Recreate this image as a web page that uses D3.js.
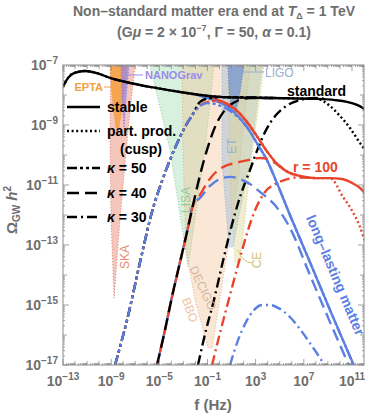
<!DOCTYPE html>
<html><head><meta charset="utf-8">
<script src="https://cdn.jsdelivr.net/npm/d3@7"></script>
<style>body{margin:0;background:#fff;} text{font-family:"Liberation Sans",Arial,Helvetica,sans-serif;}</style>
</head><body><svg id="c" width="369" height="415"></svg>
<script>
// ---------- data (log10 f [Hz], log10 Omega h^2) ----------
const xTickExps = [-13,-9,-5,-1,3,7,11];
const yTickExps = [-17,-15,-13,-11,-9,-7];

const stdStable = [[-13,-7.73],[-12.58,-7.43],[-12.09,-7.27],[-11.17,-7.2],[-10.18,-7.27],[-9.1,-7.43],[-7.44,-7.6],[-5.19,-7.77],[-3.28,-7.9],[-1.62,-8.0],[0.29,-8.07],[4.44,-8.1],[8.1,-8.13],[9.59,-8.17],[10.59,-8.23],[11.42,-8.33],[12.08,-8.47]];
const stdPartProd = [[8.1,-8.13],[9.18,-8.37],[10.01,-8.7],[10.84,-9.1],[11.5,-9.5],[12.08,-9.83]];
const r100Stable = [[-2.04,-7.97],[-0.79,-8.1],[0.29,-8.23],[1.29,-8.47],[2.28,-8.9],[3.2,-9.43],[4.03,-9.93],[4.86,-10.33],[5.69,-10.57],[6.69,-10.7],[7.93,-10.77],[9.18,-10.77],[10.17,-10.8],[11.0,-10.93],[11.67,-11.1],[12.08,-11.27]];
const r100PartProd = [[9.18,-10.77],[10.26,-11.4],[11.0,-11.85],[11.67,-12.4],[12.08,-12.9]];
const lmStable = [[-2.04,-7.97],[-0.79,-8.13],[0.29,-8.3],[1.29,-8.6],[2.28,-9.07],[3.2,-9.67],[3.94,-10.17],[4.6,-10.77],[5.85,-12.0],[7.51,-13.57],[9.18,-15.17],[11.25,-17.1]];

const k50Low = [[-8.68,-17],[-7.68,-15.5],[-6.6,-13.57],[-5.61,-11.9],[-4.69,-10.77],[-3.7,-9.77],[-2.87,-9.07],[-2.2,-8.63]];
const k50Std = [[-1.62,-8.23],[-0.79,-8.1],[0.29,-8.07],[4.44,-8.1]];
const k50R100 = [[-1.45,-8.3],[-0.38,-8.2],[1.29,-8.47],[2.28,-8.9],[3.2,-9.43]];
const k50LM = [[-1.62,-8.37],[-1.04,-8.27],[-0.38,-8.3],[0.29,-8.4],[1.29,-8.65],[2.28,-9.07],[3.2,-9.67],[3.94,-10.17],[4.6,-10.77],[5.85,-12.0],[7.51,-13.57],[9.18,-15.17],[11.25,-17.1]];

const k40Low = [[-5.19,-17],[-4.53,-15.83],[-3.95,-14.73],[-3.28,-13.57],[-2.7,-12.57],[-2.2,-11.67]];
const k40Std = [[-1.62,-10.67],[-1.04,-9.83],[-0.38,-9.07],[0.45,-8.5],[1.45,-8.2],[2.53,-8.1],[4.44,-8.1]];
const k40R100 = [[-1.62,-11.33],[-1.04,-10.93],[-0.38,-10.6],[0.45,-10.37],[1.29,-10.27],[2.37,-10.17],[3.36,-10.1],[4.03,-10.13],[4.86,-10.33],[5.69,-10.57]];
const k40LM = [[-1.62,-11.43],[-0.79,-11.03],[0.04,-10.8],[0.87,-10.73],[1.7,-10.8],[2.53,-10.97],[3.36,-11.23],[4.6,-11.67],[5.85,-12.43],[7.51,-14.0],[9.18,-15.57],[10.84,-17.1]];

const k30Std = [[-1.79,-17],[-1.12,-15.83],[-0.46,-14.83],[0.21,-13.67],[0.87,-12.57],[1.7,-11.4],[2.53,-10.5],[3.2,-9.77],[3.86,-9.17],[4.69,-8.67],[5.69,-8.33],[6.68,-8.17],[7.93,-8.1],[9.0,-8.14]];
const k30R100 = [[-0.62,-17],[0.04,-15.93],[0.87,-14.67],[1.7,-13.43],[2.37,-12.5],[3.03,-11.77],[3.78,-11.23],[4.6,-10.97],[5.44,-10.83],[6.44,-10.75],[7.93,-10.77]];
const k30LM = [[0.87,-17],[1.54,-16.17],[2.2,-15.57],[2.86,-15.17],[3.53,-15.0],[4.19,-15.0],[5.02,-15.13],[5.85,-15.4],[6.68,-15.8],[7.51,-16.27],[8.35,-16.77],[8.76,-17.05]];

// detector sensitivity regions
const detEPTA = [[-9.1,-6.5],[-7.68,-6.5],[-7.68,-7],[-7.93,-8.0],[-8.35,-9.1],[-8.6,-9.1],[-8.93,-8.0],[-9.1,-7]];
const detNANOGrav = [[-8.18,-6.5],[-7.52,-6.5],[-7.52,-7],[-7.77,-8.17],[-7.93,-9.1],[-8.1,-8.17],[-8.18,-7]];
const detSKA = [[-9.01,-6.5],[-7.02,-6.5],[-7.02,-7],[-7.6,-9.17],[-8.27,-12.17],[-8.76,-14.77],[-9.01,-12.17],[-9.1,-9.17]];
const detLISA = [[-5.77,-6.5],[-0.46,-6.5],[-0.46,-7],[-1.21,-9.83],[-2.29,-12.83],[-2.62,-13.73],[-2.95,-12.83],[-4.11,-9.83],[-5.77,-7]];
const detDECIGO = [[-3.12,-6.5],[2.53,-6.5],[2.53,-7],[1.53,-10.83],[0.54,-13.5],[-0.62,-16.43],[-0.96,-16.43],[-2.04,-14.83],[-2.78,-13.17],[-3.03,-9.83],[-3.12,-7]];
const detET = [[0.21,-6.5],[3.53,-6.5],[3.53,-7],[2.53,-10.17],[1.12,-13.07],[0.79,-13.07],[0.21,-10.17],[0.21,-7]];
const detCE = [[0.7,-6.5],[3.69,-6.5],[3.69,-7],[2.53,-10.5],[1.7,-13.57],[1.29,-13.57],[0.95,-11.5],[0.7,-7]];
const detLIGO = [[0.7,-6.5],[2.03,-6.5],[2.03,-7],[1.7,-7.9],[1.37,-8.57],[1.04,-8.57],[0.79,-7.9],[0.7,-7]];

// ---------- drawing ----------
const svg = d3.select("#c");
const L = 63, R = 364, T = 65, B = 365;
const x = d3.scaleLog().domain([1e-13,1e12]).range([L,R]);
const y = d3.scaleLog().domain([1e-17,1e-7]).range([B,T]);
const px = p => x(Math.pow(10,p[0]));
const py = p => y(Math.pow(10,p[1]));

svg.append("clipPath").attr("id","clip").append("rect").attr("x",L).attr("y",T).attr("width",R-L).attr("height",B-T);
const plot = svg.append("g").attr("clip-path","url(#clip)");

const regions = [
  {d:detLISA, fill:"#8fd6a4", op:0.35, st:"#7cc891"},
  {d:detDECIGO, fill:"#f3bf94", op:0.38, st:"#e0a77c"},
  {d:detSKA, fill:"#e8806a", op:0.45, st:"#e0735c"},
  {d:detEPTA, fill:"#f59a2c", op:0.75, st:"#f08a20"},
  {d:detNANOGrav, fill:"#9385ea", op:0.7, st:"#8a7be6"},
  {d:detET, fill:"#9dbcdb", op:0.45, st:"#88aacd"},
  {d:detCE, fill:"#ddd38a", op:0.4, st:"#cfc372"},
  {d:detLIGO, fill:"#5d86db", op:0.6, st:"#4f78d0"}
];
const poly = d3.line().x(px).y(py);
regions.forEach(r=>{
  plot.append("path").attr("d",poly(r.d)+"Z").attr("fill",r.fill).attr("fill-opacity",r.op)
    .attr("stroke",r.st).attr("stroke-width",1).attr("stroke-dasharray","1,2").attr("stroke-opacity",0.9);
});

const line = d3.line().x(px).y(py).curve(d3.curveMonotoneX);
const BLACK="#000", RED="#e8452c", BLUE="#5b7fe3";
const SOLID=null, DOT="2,2.6", K50="10,3,3,3,3,3", K40="12,6", K30="10,4,2,4";
const curves = [
  {d:r100Stable.filter(p=>p[0]<=9.18).concat(r100PartProd.slice(1)), c:RED, s:DOT},
  {d:stdStable.filter(p=>p[0]<=8.1).concat(stdPartProd.slice(1)), c:BLACK, s:DOT},
  {d:r100Stable, c:RED, s:SOLID},
  {d:lmStable, c:BLUE, s:SOLID},
  {d:stdStable, c:BLACK, s:SOLID},
  {d:k30Std, c:BLACK, s:K30},
  {d:k30R100, c:RED, s:K30},
  {d:k30LM, c:BLUE, s:K30},
  {d:k40Low.concat(k40LM), c:BLUE, s:K40, off:10},
  {d:k40Low.concat(k40R100), c:RED, s:K40, off:5},
  {d:k40Low.concat(k40Std), c:BLACK, s:K40, off:0},
  {d:k50Low.concat(k50R100), c:RED, s:K50},
  {d:k50Low.concat(k50Std), c:BLACK, s:K50},
  {d:k50Low.concat(k50LM), c:BLUE, s:K50}
];
curves.forEach(cv=>{
  const p = plot.append("path").attr("d",line(cv.d)).attr("fill","none").attr("stroke",cv.c)
    .attr("stroke-width",2.4);
  if(cv.s) p.attr("stroke-dasharray",cv.s).attr("stroke-dashoffset",cv.off||0);
});

// frame and ticks
const FR="#8c8c8c";
svg.append("rect").attr("x",L).attr("y",T).attr("width",R-L).attr("height",B-T).attr("fill","none").attr("stroke",FR).attr("stroke-width",1);
const tg = svg.append("g").attr("stroke",FR).attr("stroke-width",0.8);
for(let e=-13;e<=11;e++){
  for(let m=1;m<=9;m++){
    const v=m*Math.pow(10,e); if(v>1e12) continue;
    const xx=x(v);
    const len = m===1 ? (xTickExps.includes(e)?6:4) : 2;
    tg.append("line").attr("x1",xx).attr("x2",xx).attr("y1",B).attr("y2",B-len);
    tg.append("line").attr("x1",xx).attr("x2",xx).attr("y1",T).attr("y2",T+len);
  }
}
for(let e=-17;e<=-8;e++){
  for(let m=1;m<=9;m++){
    const v=m*Math.pow(10,e);
    const yy=y(v);
    const len = m===1 ? (yTickExps.includes(e)?6:4) : 2;
    tg.append("line").attr("y1",yy).attr("y2",yy).attr("x1",L).attr("x2",L+len);
    tg.append("line").attr("y1",yy).attr("y2",yy).attr("x1",R).attr("x2",R-len);
  }
}

const LAB="#6e6e6e";
xTickExps.forEach(e=>{
  const t=svg.append("text").attr("x",x(Math.pow(10,e))).attr("y",386).attr("text-anchor","middle")
    .attr("fill",LAB).attr("font-size",14).attr("font-weight","bold");
  t.append("tspan").text("10");
  t.append("tspan").attr("dy",-6).attr("font-size",10).text(e<0 ? "\u2212"+Math.abs(e) : String(e));
});
yTickExps.forEach(e=>{
  const t=svg.append("text").attr("x",58).attr("y",y(Math.pow(10,e))+5).attr("text-anchor","end")
    .attr("fill",LAB).attr("font-size",14).attr("font-weight","bold");
  t.append("tspan").text("10");
  t.append("tspan").attr("dy",-6).attr("font-size",10).text("\u2212"+Math.abs(e));
});

// axis titles
svg.append("text").attr("x",213).attr("y",410).attr("text-anchor","middle").attr("fill",LAB)
  .attr("font-size",15).attr("font-weight","bold").text("f (Hz)");
const yl=svg.append("text").attr("transform","translate(17,210) rotate(-90)").attr("text-anchor","middle")
  .attr("fill",LAB).attr("font-size",15).attr("font-weight","bold");
yl.append("tspan").text("\u03A9");
yl.append("tspan").attr("font-size",10).attr("dy",3).text("GW");
yl.append("tspan").attr("dy",-3).attr("font-style","italic").text(" h");
yl.append("tspan").attr("dy",-6).attr("font-size",10).text("2");

// title
const t1=svg.append("text").attr("x",214).attr("y",16).attr("text-anchor","middle").attr("fill",LAB)
  .attr("font-size",14).attr("font-weight","bold");
t1.append("tspan").text("Non\u2013standard matter era end at ");
t1.append("tspan").attr("font-style","italic").text("T");
t1.append("tspan").attr("font-size",9).attr("dy",3).text("\u0394");
t1.append("tspan").attr("dy",-3).text(" = 1 TeV");
const t2=svg.append("text").attr("x",214).attr("y",37).attr("text-anchor","middle").attr("fill",LAB)
  .attr("font-size",14).attr("font-weight","bold");
t2.append("tspan").text("(G");
t2.append("tspan").attr("font-style","italic").text("\u03BC");
t2.append("tspan").text(" = 2 \u00D7 10");
t2.append("tspan").attr("font-size",9).attr("dy",-6).text("\u22127");
t2.append("tspan").attr("dy",6).text(", \u0393 = 50, ");
t2.append("tspan").attr("font-style","italic").text("\u03B1");
t2.append("tspan").text(" = 0.1)");

// legend
const legend=[{s:SOLID,y:107,t:["stable"]},{s:DOT,y:131,t:["part. prod."]},{s:K50,y:168,k:"50"},{s:K40,y:193,k:"40"},{s:K30,y:217,k:"30"}];
legend.forEach(l=>{
  const ln=svg.append("line").attr("x1",67).attr("x2",100).attr("y1",l.y).attr("y2",l.y).attr("stroke","#000").attr("stroke-width",2.3);
  if(l.s) ln.attr("stroke-dasharray",l.s);
  const tx=svg.append("text").attr("x",107).attr("y",l.y+5).attr("font-size",14).attr("font-weight","bold").attr("fill","#000");
  if(l.t) tx.text(l.t[0]);
  else { tx.append("tspan").attr("font-style","italic").text("\u03BA"); tx.append("tspan").text(" = "+l.k); }
});
svg.append("text").attr("x",120).attr("y",154).attr("font-size",14).attr("font-weight","bold").text("(cusp)");

// curve labels
svg.append("text").attr("x",287).attr("y",96).attr("font-size",14).attr("font-weight","bold").text("standard");
svg.append("text").attr("x",293).attr("y",172).attr("font-size",14).attr("font-weight","bold").attr("fill",RED).text("r = 100");
svg.append("text").attr("transform","translate(331,277) rotate(67)").attr("text-anchor","middle").attr("font-size",14).attr("font-weight","bold").attr("fill",BLUE).text("long\u2013lasting matter");

// detector labels
svg.append("text").attr("x",103).attr("y",91).attr("text-anchor","end").attr("font-size",11).attr("font-weight","bold").attr("fill","#f2a040").text("EPTA");
svg.append("line").attr("x1",104).attr("x2",112).attr("y1",87).attr("y2",87).attr("stroke","#f2a040").attr("stroke-width",1);
svg.append("text").attr("x",145).attr("y",79).attr("font-size",11).attr("font-weight","bold").attr("fill","#9a8ce8").text("NANOGrav");
svg.append("line").attr("x1",127).attr("x2",143).attr("y1",75).attr("y2",75).attr("stroke","#9a8ce8").attr("stroke-width",1);
svg.append("text").attr("x",265).attr("y",77).attr("font-size",12).attr("fill","#94afcf").text("LIGO");
svg.append("line").attr("x1",243).attr("x2",264).attr("y1",72).attr("y2",72).attr("stroke","#94afcf").attr("stroke-width",1);
const rl=(t,cx,cy,a,c)=>svg.append("text").attr("transform",`translate(${cx},${cy}) rotate(${a})`).attr("text-anchor","middle").attr("dy","0.35em").attr("font-size",12).attr("fill",c).text(t);
rl("SKA",125,257,-90,"#e98a72");
rl("LISA",186,200,-90,"#8ccd9c");
rl("ET",232,146,-90,"#93b4d3");
rl("CE",257,260,-90,"#cfc575");
rl("DECIGO",203,288,65,"#d4b39b");
rl("BBO",190,310,70,"#efc3a3");
svg.append("path").attr("d","M238,250 Q242,262 252,263").attr("fill","none").attr("stroke","#cfc575").attr("stroke-width",1);
</script></body></html>
